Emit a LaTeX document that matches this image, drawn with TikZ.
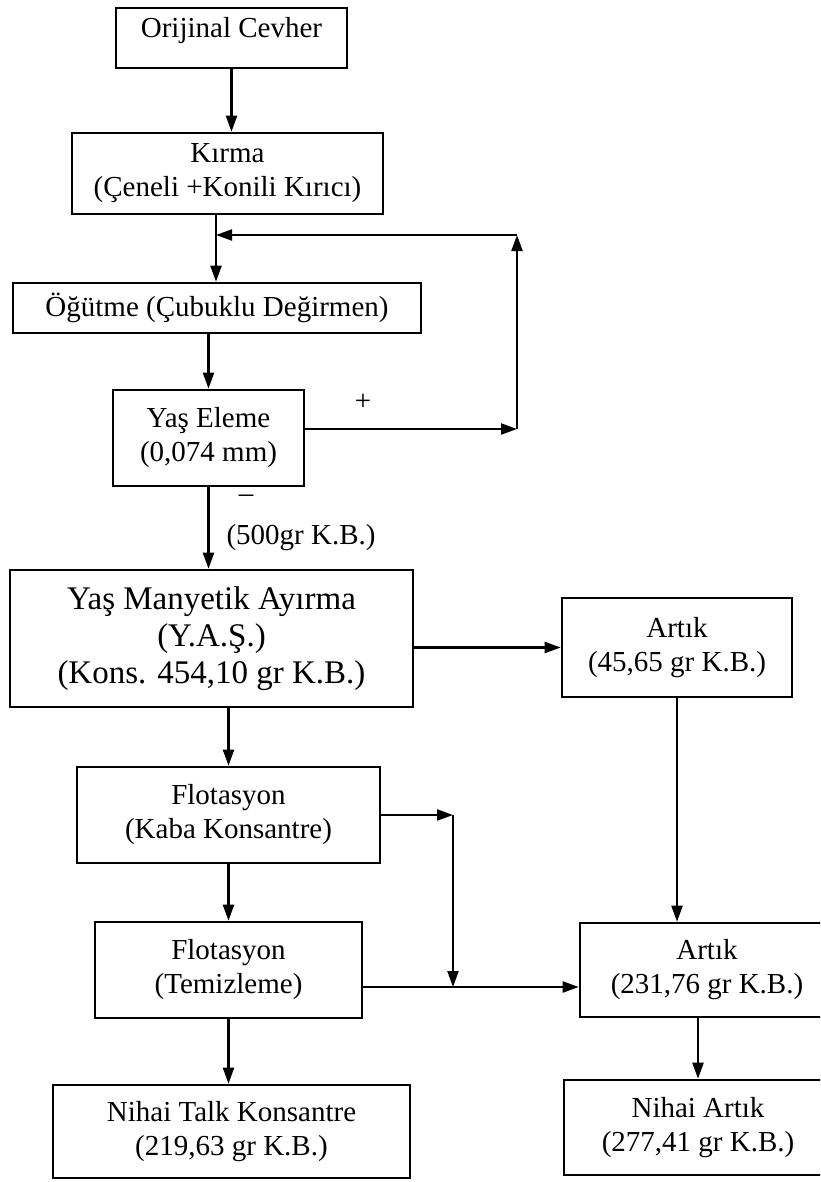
\documentclass[tikz,border=0pt]{standalone}
\usepackage{fontspec}
\setmainfont{Liberation Serif}
\usetikzlibrary{arrows.meta}

\begin{document}
\begin{tikzpicture}[x=0.5pt,y=-0.5pt,
    kutu/.style={draw,line width=1.3pt,inner sep=0pt,align=center,
      font=\fontsize{14.5}{17}\selectfont},
    yazi/.style={inner sep=0pt,font=\fontsize{14.5}{17}\selectfont},
    ok/.style={line width=1.1pt,-{Triangle[length=8pt,width=5.5pt]}}]
      \clip (0,0) rectangle (820,1182);
      \fill[white] (0,0) rectangle (820,1182);

      % sol kolon
      \node[kutu,minimum width=115.5pt,minimum height=30pt,
        text height=9.6pt,text depth=9.6pt] (orijinal) at (231.5,38) {Orijinal Cevher};
      \node[kutu,minimum width=155.5pt,minimum height=40.5pt] (kirma) at (227.5,173.5)
        {Kırma\\(Çeneli +Konili Kırıcı)};
      \node[kutu,minimum width=204pt,minimum height=25pt] (ogutme) at (217,308)
        {Öğütme (Çubuklu Değirmen)};
      \node[kutu,minimum width=95.5pt,minimum height=48pt] (eleme) at (208.5,438)
        {Yaş Eleme\\(0,074 mm)};
      \node[kutu,minimum width=201.5pt,minimum height=68.5pt,
        font=\fontsize{16.5}{18.5}\selectfont] (yas) at (211.5,638.5)
        {Yaş Manyetik Ayırma\\(Y.A.Ş.)\\(Kons. 454,10 gr K.B.)};
      \node[kutu,minimum width=151.5pt,minimum height=48pt] (flot1) at (228.5,815)
        {Flotasyon\\(Kaba Konsantre)};
      \node[kutu,minimum width=133.5pt,minimum height=48pt] (flot2) at (228.5,970)
        {Flotasyon\\(Temizleme)};
      \node[kutu,minimum width=178.5pt,minimum height=46.5pt] (talk) at (231.5,1131.5)
        {Nihai Talk Konsantre\\(219,63 gr K.B.)};

      % sag kolon
      \node[kutu,minimum width=115pt,minimum height=49.5pt] (artik1) at (677,647.5)
        {Artık\\(45,65 gr K.B.)};
      \node[kutu,minimum width=127pt,minimum height=47pt] (artik2) at (707,970)
        {Artık\\(231,76 gr K.B.)};
      \node[kutu,minimum width=134pt,minimum height=47.5pt] (nihai) at (698,1127.5)
        {Nihai Artık\\(277,41 gr K.B.)};

      \node[yazi] (arti) at (363,402) {+};
      \node[yazi] (eksi) at (246,499) {–};
      \node[yazi] (kb) at (301,538) {(500gr K.B.)};

      \coordinate (birlesme) at (216,235);
      \coordinate (geriA) at (517,429);
      \coordinate (geriB) at (517,235);
      \coordinate (kabaA) at (453,815);
      \coordinate (kabaB) at (453,987);

      \draw[ok] (orijinal.south) -- (orijinal.south |- kirma.north);
      \draw[line width=1.1pt] (kirma.south -| birlesme) -- (birlesme);
      \draw[ok] (birlesme) -- (birlesme |- ogutme.north);
      \draw[ok] (ogutme.south -| eleme.north) -- (eleme.north);
      \draw[ok] (eleme.east |- geriA) -- (geriA);
      \draw[ok] (geriA) -- (geriB);
      \draw[ok] (geriB) -- (birlesme);
      \draw[ok] (eleme.south) -- (eleme.south |- yas.north);
      \draw[ok] (artik1.west -| yas.east) -- (artik1.west);
      \draw[ok] (flot1.north |- yas.south) -- (flot1.north);
      \draw[ok] (artik1.south) -- (artik1.south |- artik2.north);
      \draw[ok] (flot1.east |- kabaA) -- (kabaA);
      \draw[ok] (kabaA) -- (kabaB);
      \draw[ok] (flot2.east |- kabaB) -- (artik2.west |- kabaB);
      \draw[ok] (flot1.south) -- (flot2.north);
      \draw[ok] (flot2.south) -- (flot2.south |- talk.north);
      \draw[ok] (nihai.north |- artik2.south) -- (nihai.north);
    \end{tikzpicture}
\end{document}
